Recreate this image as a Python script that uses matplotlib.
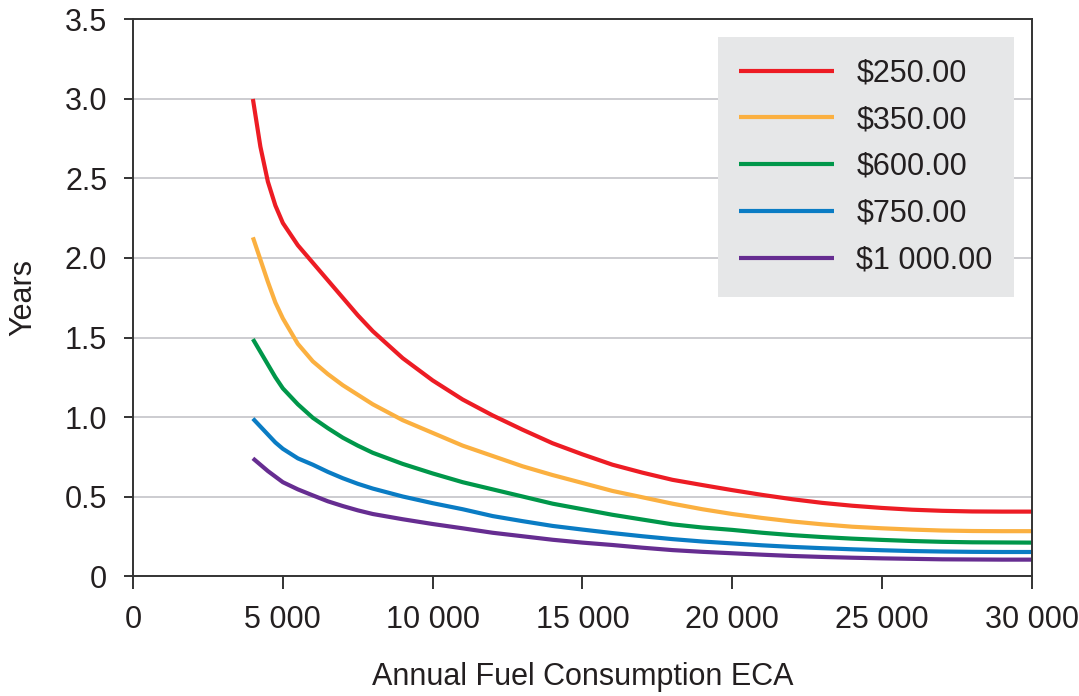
import matplotlib
matplotlib.use("Agg")
import matplotlib.pyplot as plt

# Datos (consumo anual vs. años de recuperación)
consumo = [4000, 4250, 4500, 4750, 5000, 5500, 6000, 6500, 7000, 7500, 8000,
           9000, 10000, 11000, 12000, 13000, 14000, 15000, 16000, 17000, 18000,
           19000, 20000, 21000, 22000, 23000, 24000, 25000, 26000, 27000, 28000,
           29000, 30000]

anos_250 = [3.0, 2.70, 2.48, 2.33, 2.22, 2.08, 1.97, 1.86, 1.75, 1.64, 1.54,
            1.37, 1.23, 1.11, 1.01, 0.92, 0.835, 0.765, 0.70, 0.65, 0.605,
            0.572, 0.54, 0.51, 0.483, 0.46, 0.442, 0.428, 0.417, 0.41, 0.406,
            0.405, 0.405]
anos_350 = [2.13, 1.99, 1.85, 1.72, 1.62, 1.46, 1.35, 1.27, 1.20, 1.14, 1.08,
            0.98, 0.90, 0.82, 0.755, 0.69, 0.635, 0.585, 0.535, 0.495, 0.455,
            0.42, 0.39, 0.365, 0.343, 0.325, 0.31, 0.30, 0.292, 0.286, 0.283,
            0.282, 0.282]
anos_600 = [1.49, 1.41, 1.33, 1.25, 1.18, 1.08, 0.995, 0.93, 0.87, 0.82, 0.775,
            0.705, 0.645, 0.59, 0.545, 0.50, 0.455, 0.42, 0.385, 0.355, 0.325,
            0.305, 0.29, 0.272, 0.257, 0.245, 0.235, 0.227, 0.22, 0.215, 0.212,
            0.211, 0.21]
anos_750 = [0.99, 0.94, 0.89, 0.84, 0.80, 0.74, 0.70, 0.655, 0.615, 0.58, 0.55,
            0.50, 0.458, 0.42, 0.377, 0.345, 0.315, 0.292, 0.27, 0.25, 0.232,
            0.217, 0.205, 0.193, 0.183, 0.175, 0.168, 0.162, 0.157, 0.154, 0.152,
            0.151, 0.151]
anos_1000 = [0.74, 0.70, 0.66, 0.625, 0.59, 0.545, 0.507, 0.47, 0.44, 0.413, 0.39,
             0.357, 0.327, 0.30, 0.272, 0.25, 0.228, 0.21, 0.195, 0.178, 0.163,
             0.152, 0.143, 0.134, 0.126, 0.12, 0.115, 0.111, 0.108, 0.105, 0.104,
             0.103, 0.103]

etiquetas = ["$250.00", "$350.00", "$600.00", "$750.00", "$1 000.00"]
colores = ["#ed1c24", "#fbb040", "#00974a", "#0a7cc4", "#662d91"]

xticks = [0, 5000, 10000, 15000, 20000, 25000, 30000]
xtick_labels = ["0", "5 000", "10 000", "15 000", "20 000", "25 000", "30 000"]
yticks = [0, 0.5, 1.0, 1.5, 2.0, 2.5, 3.0, 3.5]
ytick_labels = ["0", "0.5", "1.0", "1.5", "2.0", "2.5", "3.0", "3.5"]

plt.rcParams['font.family'] = ['Liberation Sans', 'DejaVu Sans']

fig = plt.figure(figsize=(10.79, 6.96), dpi=100)
ax = fig.add_axes([0.1233, 0.1724, 0.8331, 0.7996])

series = [anos_250, anos_350, anos_600, anos_750, anos_1000]
for y, lab, c in zip(series, etiquetas, colores):
    ax.plot(consumo, y, color=c, linewidth=3.0, label=lab,
            solid_capstyle='butt', solid_joinstyle='round')

ax.set_xlim(0, 30000)
ax.set_ylim(0, 3.5)
ax.set_xticks(xticks)
ax.set_xticklabels(xtick_labels)
ax.set_yticks(yticks)
ax.set_yticklabels(ytick_labels)

texto = "#231f20"
ax.tick_params(axis='x', direction='out', length=9, width=1.4, color="#333333",
               labelsize=22, pad=12, labelcolor=texto)
ax.tick_params(axis='y', direction='out', length=6.5, width=1.4, color="#333333",
               labelsize=22, pad=12, labelcolor=texto)

for s in ax.spines.values():
    s.set_color("#333333")
    s.set_linewidth(1.4)

ax.yaxis.grid(True, color="#c4c4c8", linewidth=1.2)
ax.set_axisbelow(True)

ax.set_xlabel("Annual Fuel Consumption ECA", fontsize=22, color=texto, labelpad=19)
ax.set_ylabel("Years", fontsize=22, color=texto, labelpad=19)

leg = ax.legend(loc='upper right', bbox_to_anchor=(0.98, 0.9686), fontsize=22,
                frameon=True, fancybox=False, framealpha=1, borderaxespad=0,
                borderpad=0.7, handlelength=3.1, handletextpad=0.72,
                labelspacing=0.55)
leg.get_frame().set_facecolor("#e6e7e8")
leg.get_frame().set_edgecolor("none")
for t in leg.get_texts():
    t.set_color(texto)

fig.savefig("out.png", dpi=100)
